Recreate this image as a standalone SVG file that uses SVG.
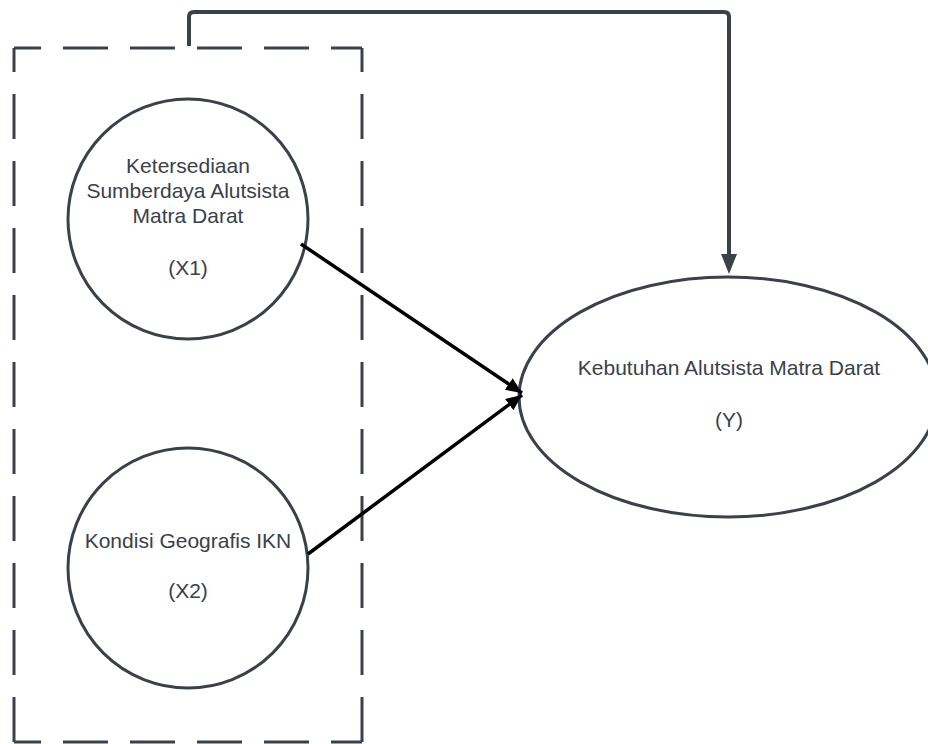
<svg xmlns="http://www.w3.org/2000/svg" width="928" height="744" viewBox="0 0 928 744">
<style>
.node{fill:#ffffff;stroke:#3a414a;stroke-width:3}
.lbl{font-family:"Liberation Sans",Arial,sans-serif;font-size:21px;fill:#3a414a;text-anchor:middle}
.dash{fill:none;stroke:#3a414a;stroke-width:3;stroke-dasharray:45 22}
.blk{fill:none;stroke:#000;stroke-width:3.5}
.gry{fill:none;stroke:#3a414a;stroke-width:4;stroke-linejoin:round}
</style>
<defs>
<marker id="ab" markerUnits="userSpaceOnUse" markerWidth="20" markerHeight="16" refX="16" refY="7" orient="auto">
<path d="M0,0 L16,7 L0,14 Z" fill="#000"/>
</marker>
<marker id="ag" markerUnits="userSpaceOnUse" markerWidth="24" markerHeight="18" refX="2" refY="8" orient="auto">
<path d="M0,0 L20,8 L0,16 Z" fill="#3a414a"/>
</marker>
</defs>
<g id="group-box">
<line class="dash" x1="14" y1="48" x2="362" y2="48" stroke-dashoffset="18"/>
<line class="dash" x1="14" y1="48" x2="14" y2="744" stroke-dashoffset="21"/>
<line class="dash" x1="362" y1="48" x2="362" y2="744" stroke-dashoffset="21"/>
<line class="dash" x1="14" y1="742" x2="362" y2="742" stroke-dashoffset="18"/>
</g>
<g id="node-x1">
<circle class="node" cx="188" cy="219" r="120"/>
<text class="lbl" x="188" y="173">Ketersediaan</text>
<text class="lbl" x="188" y="198">Sumberdaya Alutsista</text>
<text class="lbl" x="188" y="223">Matra Darat</text>
<text class="lbl" x="188" y="275">(X1)</text>
</g>
<g id="node-x2">
<circle class="node" cx="188" cy="568" r="120"/>
<text class="lbl" x="188" y="548">Kondisi Geografis IKN</text>
<text class="lbl" x="188" y="598">(X2)</text>
</g>
<g id="node-y">
<ellipse class="node" cx="728" cy="397" rx="209" ry="120"/>
<text class="lbl" x="729" y="375">Kebutuhan Alutsista Matra Darat</text>
<text class="lbl" x="729" y="427">(Y)</text>
</g>
<g id="connectors">
<path class="gry" d="M189,46 V17 Q189,12 194,12 H724 Q729,12 729,17 V256" marker-end="url(#ag)"/>
<line class="blk" x1="301" y1="244" x2="522" y2="393" marker-end="url(#ab)"/>
<line class="blk" x1="308" y1="554" x2="522" y2="395" marker-end="url(#ab)"/>
</g>
</svg>
